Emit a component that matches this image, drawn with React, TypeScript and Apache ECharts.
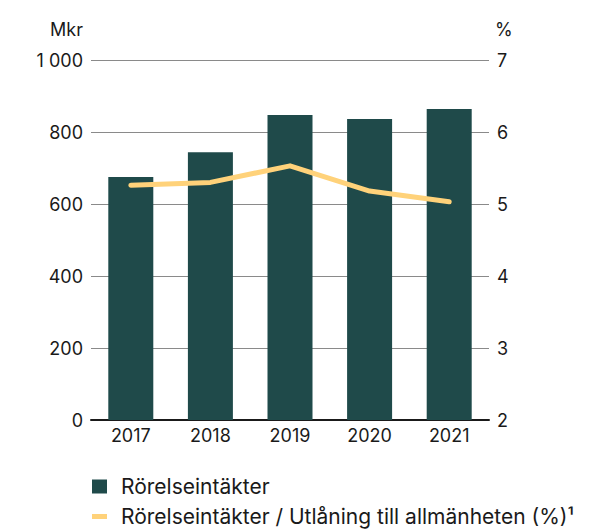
import React, { useEffect, useRef } from "react";
import * as echarts from "echarts";

const years = ["2017", "2018", "2019", "2020", "2021"];
const revenue = [675, 744, 847, 836, 864];
const ratio = [5.26, 5.3, 5.53, 5.18, 5.03];
const barName = "Rörelseintäkter";
const lineName = "Rörelseintäkter / Utlåning till allmänheten (%)¹";

const FONT = "Inter";
const TXT = "#1a1a1a";
const AX = 18;
const LEG = 21;

export default function App() {
  const ref = useRef<HTMLDivElement>(null);
  useEffect(() => {
    if (!ref.current) return;
    const chart = echarts.init(ref.current, undefined, { renderer: "svg" });
    chart.setOption({
      animation: false,
      textStyle: { fontFamily: FONT, color: TXT },
      grid: { left: 91, right: 112, top: 60, bottom: 109, containLabel: false },
      legend: [
        {
          data: [barName],
          orient: "vertical",
          left: 92,
          top: 476,
          padding: 0,
          itemWidth: 15,
          itemHeight: 14,
          icon: "rect",
          textStyle: { fontFamily: FONT, fontSize: LEG, color: TXT, padding: [0, 0, 0, 9] },
        },
        {
          data: [lineName],
          orient: "vertical",
          left: 92,
          top: 506,
          padding: 0,
          itemWidth: 15,
          itemHeight: 5,
          icon: "rect",
          textStyle: { fontFamily: FONT, fontSize: LEG, color: TXT, padding: [0, 0, 0, 9] },
        },
      ],
      xAxis: {
        type: "category",
        data: years,
        axisLine: { show: true, lineStyle: { color: "#1a1a1a", width: 2 } },
        axisTick: { show: false },
        axisLabel: { fontFamily: FONT, fontSize: AX, color: TXT, margin: 6 },
      },
      yAxis: [
        {
          type: "value",
          min: 0,
          max: 1000,
          interval: 200,
          name: "Mkr",
          nameLocation: "end",
          nameGap: 22,
          nameTextStyle: { fontFamily: FONT, fontSize: AX, color: TXT, align: "right", padding: [0, 8, 0, 0] },
          axisLine: { show: false },
          axisTick: { show: false },
          axisLabel: {
            fontFamily: FONT,
            fontSize: AX,
            color: TXT,
            margin: 8,
            formatter: (v: number) => (v >= 1000 ? String(v).replace(/(\d)(\d{3})$/, "$1 $2") : String(v)),
          },
          splitLine: { show: true, lineStyle: { color: "#8a8a8a", width: 1 } },
        },
        {
          type: "value",
          min: 2,
          max: 7,
          interval: 1,
          name: "%",
          nameLocation: "end",
          nameGap: 22,
          nameTextStyle: { fontFamily: FONT, fontSize: AX, color: TXT, align: "left", padding: [0, 0, 0, 6] },
          axisLine: { show: false },
          axisTick: { show: false },
          axisLabel: { fontFamily: FONT, fontSize: AX, color: TXT, margin: 8 },
          splitLine: { show: false },
        },
      ],
      series: [
        {
          name: barName,
          type: "bar",
          data: revenue,
          barWidth: 45,
          itemStyle: { color: "#1f4a4a" },
          yAxisIndex: 0,
        },
        {
          name: lineName,
          type: "line",
          data: ratio,
          yAxisIndex: 1,
          showSymbol: false,
          symbol: "none",
          lineStyle: { color: "#ffd27a", width: 5, cap: "round", join: "round" },
          itemStyle: { color: "#ffd27a" },
        },
      ],
    });
    return () => chart.dispose();
  }, []);
  return (
    <div
      ref={ref}
      style={{ position: "absolute", left: 0, top: 0, width: 601, height: 529 }}
    />
  );
}
